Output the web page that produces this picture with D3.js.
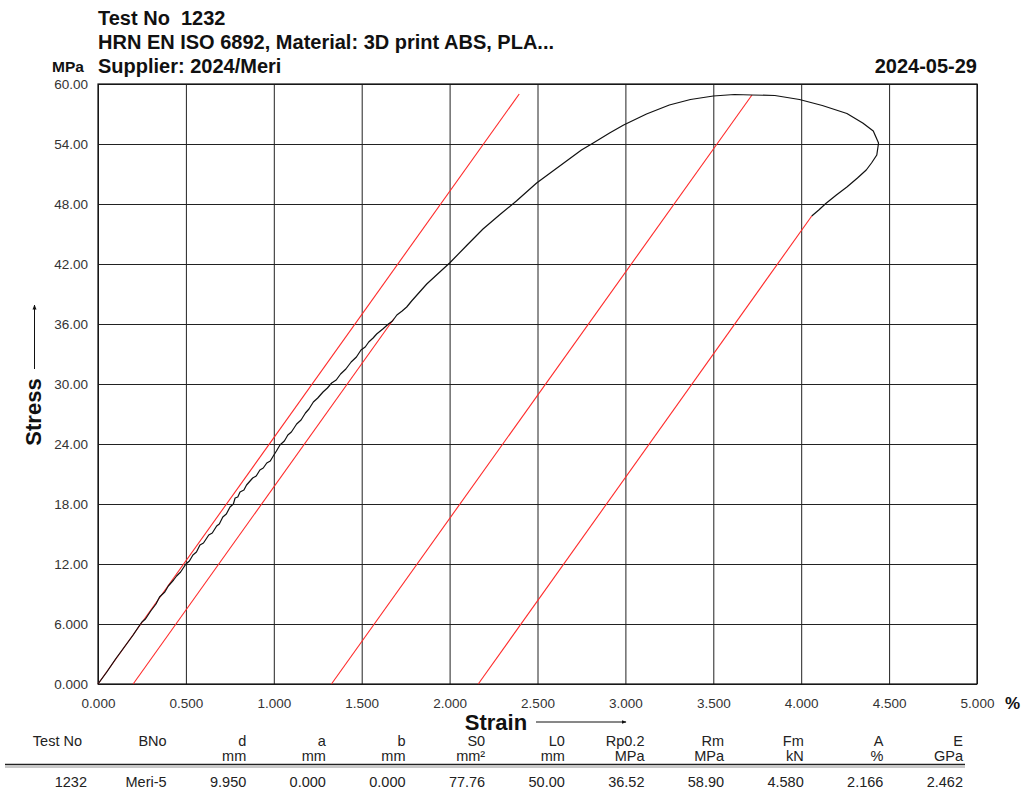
<!DOCTYPE html>
<html>
<head>
<meta charset="utf-8">
<script src="https://cdn.jsdelivr.net/npm/d3@7"></script>
<style>
  body { margin: 0; background: #fff; }
  text { font-family: "Liberation Sans", Arial, sans-serif; white-space: pre; }
</style>
</head>
<body>
<div id="chart"></div>
<script>
// ---- data ----
const titleLines = ["Test No  1232", "HRN EN ISO 6892, Material: 3D print ABS, PLA...", "Supplier: 2024/Meri"];
const testDate = "2024-05-29";

const xTicks = [0, 0.5, 1, 1.5, 2, 2.5, 3, 3.5, 4, 4.5, 5];
const yTicks = [0, 6, 12, 18, 24, 30, 36, 42, 48, 54, 60];

// measured curve (strain %, stress MPa)
const strain = [0, 0.05, 0.10, 0.15, 0.20, 0.23, 0.25, 0.27, 0.30, 0.33, 0.35, 0.38, 0.40, 0.43, 0.447, 0.47,
  0.50, 0.52, 0.54, 0.56, 0.58, 0.60, 0.63, 0.65, 0.675, 0.69, 0.71, 0.73, 0.751, 0.77, 0.78, 0.795, 0.808,
  0.83, 0.845, 0.865, 0.88, 0.90, 0.921, 0.94, 0.96, 0.98, 0.997, 1.015, 1.035, 1.06, 1.08, 1.10, 1.13, 1.155,
  1.18, 1.20, 1.225, 1.25, 1.28, 1.305, 1.329, 1.355, 1.38, 1.41, 1.44, 1.47, 1.496, 1.52, 1.54, 1.565, 1.585,
  1.62, 1.652, 1.675, 1.70, 1.73, 1.756, 1.784, 1.87, 2.0, 2.10, 2.19, 2.29, 2.38,
  2.495, 2.58, 2.665, 2.75, 2.817, 2.91, 2.99, 3.12, 3.25, 3.37, 3.50, 3.62, 3.72, 3.85, 3.99, 4.12, 4.26, 4.35,
  4.41, 4.44, 4.43, 4.40, 4.37, 4.32, 4.26, 4.20, 4.14, 4.10, 4.06];
const stress = [0, 1.2, 2.5, 3.7, 4.9, 5.7, 6.2, 6.5, 7.3, 8.0, 8.7, 9.2, 9.8, 10.4, 10.8, 11.2,
  12.0, 12.3, 12.9, 13.2, 13.9, 14.1, 14.9, 15.1, 15.8, 16.0, 16.7, 17.0, 17.7, 18.0, 18.6, 18.7, 19.2,
  19.4, 19.9, 20.3, 20.6, 20.8, 21.4, 21.6, 22.1, 22.3, 22.8, 23.3, 23.9, 24.3, 24.9, 25.2, 26.0, 26.4,
  27.1, 27.5, 28.2, 28.6, 29.2, 29.6, 30.1, 30.4, 31.0, 31.5, 32.2, 32.7, 33.4, 33.7, 34.2, 34.6, 35.0,
  35.5, 36.0, 36.3, 36.9, 37.3, 37.7, 38.3, 40.0, 42.1, 43.9, 45.5, 47.0, 48.3,
  50.1, 51.2, 52.3, 53.4, 54.1, 55.1, 55.9, 57.0, 57.9, 58.45, 58.8, 58.95, 58.9, 58.85, 58.45, 57.85, 57.05, 56.1,
  55.3, 54.1, 52.9, 52.1, 51.4, 50.6, 49.7, 48.9, 48.05, 47.4, 46.8];

// evaluation lines (start / end in strain %, stress MPa)
const modulusLine = [[0, 0], [2.396, 59.0]];
const offsetLine = [[0.2, 0], [1.683, 36.52]];
const rmLine = [[1.328, 0], [3.72, 58.9]];
const breakLine = [[2.163, 0], [4.06, 46.8]];

// results table
const colNames = ["Test No", "BNo", "d", "a", "b", "S0", "L0", "Rp0.2", "Rm", "Fm", "A", "E"];
const colUnits = ["", "", "mm", "mm", "mm", "mm²", "mm", "MPa", "MPa", "kN", "%", "GPa"];
const colValues = ["1232", "Meri-5", "9.950", "0.000", "0.000", "77.76", "50.00", "36.52", "58.90", "4.580", "2.166", "2.462"];

// ---- drawing ----
const W = 1024, H = 794;
const plot = {left: 98, right: 977, top: 84, bottom: 684};

const svg = d3.select("#chart").append("svg")
  .attr("width", W).attr("height", H)
  .attr("viewBox", `0 0 ${W} ${H}`);

const x = d3.scaleLinear().domain([0, 5]).range([plot.left, plot.right]);
const y = d3.scaleLinear().domain([0, 60]).range([plot.bottom, plot.top]);

// grid
svg.append("g")
  .attr("transform", `translate(${plot.left},0)`)
  .call(d3.axisLeft(y).tickValues(yTicks).tickSize(-(plot.right - plot.left)).tickFormat(""))
  .call(g => g.select(".domain").remove())
  .selectAll("line").attr("stroke", "#222").attr("stroke-width", 1);
svg.append("g")
  .attr("transform", `translate(0,${plot.bottom})`)
  .call(d3.axisBottom(x).tickValues(xTicks).tickSize(-(plot.bottom - plot.top)).tickFormat(""))
  .call(g => g.select(".domain").remove())
  .selectAll("line").attr("stroke", "#222").attr("stroke-width", 1);

svg.append("rect")
  .attr("x", plot.left).attr("y", plot.top)
  .attr("width", plot.right - plot.left).attr("height", plot.bottom - plot.top)
  .attr("fill", "none").attr("stroke", "#111").attr("stroke-width", 1.2);

// tick labels
const yAxis = svg.append("g")
  .attr("transform", `translate(${plot.left},0)`)
  .call(d3.axisLeft(y).tickValues(yTicks).tickSize(0).tickPadding(10)
    .tickFormat(d => d >= 10 ? d.toFixed(2) : d.toFixed(3)));
yAxis.select(".domain").remove();
yAxis.selectAll("text").attr("font-size", 13.5).attr("fill", "#333")
  .attr("font-family", "Liberation Sans, Arial, sans-serif");

const xAxis = svg.append("g")
  .attr("transform", `translate(0,${plot.bottom})`)
  .call(d3.axisBottom(x).tickValues(xTicks).tickSize(0).tickPadding(14)
    .tickFormat(d3.format(".3f")));
xAxis.select(".domain").remove();
xAxis.selectAll("text").attr("font-size", 13.5).attr("fill", "#333")
  .attr("font-family", "Liberation Sans, Arial, sans-serif");

// red evaluation lines
const line = d3.line().x(d => x(d[0])).y(d => y(d[1]));
svg.append("g").selectAll("path")
  .data([modulusLine, offsetLine, rmLine, breakLine])
  .join("path")
  .attr("d", line)
  .attr("fill", "none").attr("stroke", "#ff2a2a").attr("stroke-width", 1.1);

// measured curve
svg.append("path")
  .datum(d3.zip(strain, stress))
  .attr("d", line)
  .attr("fill", "none").attr("stroke", "#111").attr("stroke-width", 1.2)
  .attr("stroke-linejoin", "round");

// titles
svg.append("g").selectAll("text")
  .data(titleLines)
  .join("text")
  .attr("x", plot.left).attr("y", (d, i) => 25 + i * 24)
  .attr("font-size", 20).attr("font-weight", "bold").attr("fill", "#111")
  .text(d => d);

svg.append("text").attr("x", 52).attr("y", 72)
  .attr("font-size", 15.5).attr("font-weight", "bold").attr("fill", "#111").text("MPa");
svg.append("text").attr("x", plot.right).attr("y", 73).attr("text-anchor", "end")
  .attr("font-size", 20).attr("font-weight", "bold").attr("fill", "#111").text(testDate);
svg.append("text").attr("x", 1005).attr("y", 709)
  .attr("font-size", 17).attr("font-weight", "bold").attr("fill", "#111").text("%");

// axis titles with arrows
svg.append("defs").append("marker")
  .attr("id", "arrow").attr("viewBox", "0 0 10 10").attr("refX", 9).attr("refY", 5)
  .attr("markerWidth", 5).attr("markerHeight", 5).attr("orient", "auto")
  .append("path").attr("d", "M0,1L10,5L0,9Z").attr("fill", "#111");

svg.append("text").attr("x", 496).attr("y", 730).attr("text-anchor", "middle")
  .attr("font-size", 22).attr("font-weight", "bold").attr("fill", "#111").text("Strain");
svg.append("line").attr("x1", 536).attr("x2", 626).attr("y1", 722).attr("y2", 722)
  .attr("stroke", "#111").attr("stroke-width", 1).attr("marker-end", "url(#arrow)");

svg.append("text").attr("transform", "translate(41,412) rotate(-90)").attr("text-anchor", "middle")
  .attr("font-size", 22).attr("font-weight", "bold").attr("fill", "#111").text("Stress");
svg.append("line").attr("x1", 34.5).attr("x2", 34.5).attr("y1", 369).attr("y2", 305)
  .attr("stroke", "#111").attr("stroke-width", 1).attr("marker-end", "url(#arrow)");

// results table
const col = d3.scalePoint().domain(colNames).range([87, 963]);
const table = svg.append("g").attr("font-size", 14.5).attr("fill", "#222").attr("text-anchor", "end");
table.selectAll(".hdr").data(colNames).join("text").attr("class", "hdr")
  .attr("x", (d, i) => col(d) - (i === 0 ? 5 : 0)).attr("y", 746).text(d => d);
table.selectAll(".unit").data(colUnits).join("text").attr("class", "unit")
  .attr("x", (d, i) => col(colNames[i])).attr("y", 761).text(d => d);
table.selectAll(".val").data(colValues).join("text").attr("class", "val")
  .attr("x", (d, i) => col(colNames[i])).attr("y", 787).text(d => d);

svg.append("line").attr("x1", 5).attr("x2", 965).attr("y1", 764.5).attr("y2", 764.5)
  .attr("stroke", "#222").attr("stroke-width", 1.6);
svg.append("line").attr("x1", 5).attr("x2", 965).attr("y1", 767).attr("y2", 767)
  .attr("stroke", "#666").attr("stroke-width", 0.7);
</script>
</body>
</html>
